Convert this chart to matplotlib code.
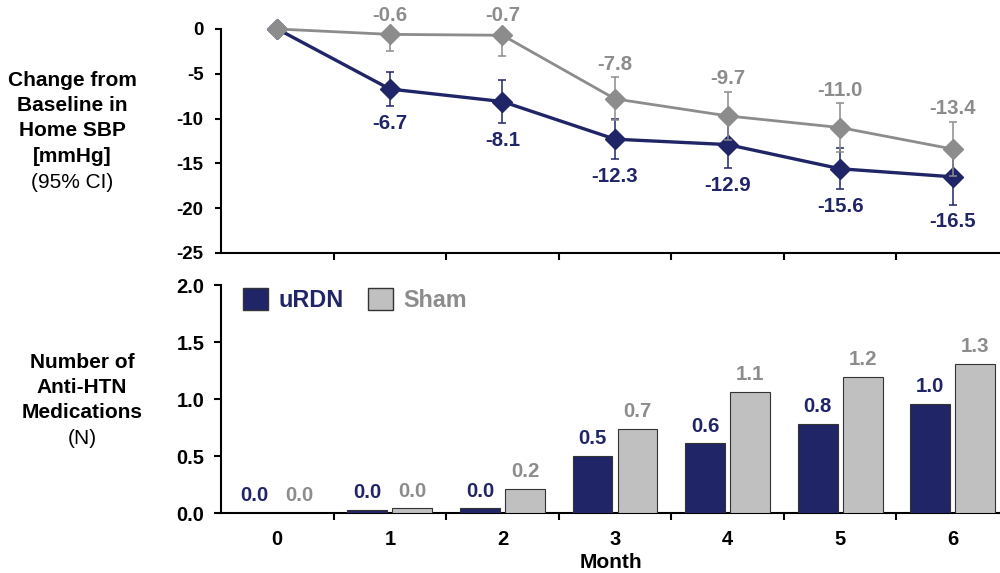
import matplotlib
matplotlib.use("Agg")
import matplotlib.pyplot as plt
from matplotlib.patches import Patch
import numpy as np

plt.rcParams['font.family'] = ['Liberation Sans', 'DejaVu Sans']
plt.rcParams['axes.unicode_minus'] = False

# data
months = [0, 1, 2, 3, 4, 5, 6]
sbp_urdn = [0.0, -6.7, -8.1, -12.3, -12.9, -15.6, -16.5]
sbp_urdn_ci = [0.0, 1.95, 2.4, 2.25, 2.6, 2.3, 3.1]
sbp_sham = [0.0, -0.6, -0.7, -7.8, -9.7, -11.0, -13.4]
sbp_sham_ci = [0.0, 1.9, 2.3, 2.4, 2.7, 2.7, 3.0]

meds_urdn = [0.0, 0.03, 0.04, 0.50, 0.61, 0.78, 0.96]
meds_sham = [0.0, 0.04, 0.21, 0.74, 1.06, 1.19, 1.31]

navy = '#1F2566'
grey_line = '#8C8C8C'
grey_bar = '#C0C0C0'

fig = plt.figure(figsize=(10, 5.73), dpi=100)
ax1 = fig.add_axes([0.221, 0.5585, 0.779, 0.3909])
ax2 = fig.add_axes([0.221, 0.1047, 0.779, 0.3979])

x = np.array(months)
bounds = np.arange(0.5, 6.5, 1.0)

# --- top panel: change in home SBP ---
eb_u = ax1.errorbar(x, sbp_urdn, yerr=sbp_urdn_ci, fmt='-D', color=navy, lw=2.4,
                    ms=10, elinewidth=1.1, capsize=2.8, capthick=1.1, zorder=3)
eb_s = ax1.errorbar(x, sbp_sham, yerr=sbp_sham_ci, fmt='-D', color=grey_line, lw=2.0,
                    ms=10, elinewidth=1.1, capsize=2.8, capthick=1.1, zorder=4)
# keep the markers at 0 whole, error bars stay clipped
eb_u[0].set_clip_on(False)
eb_s[0].set_clip_on(False)

for i in months[1:]:
    top = min(sbp_sham[i] + sbp_sham_ci[i], 0)
    ax1.annotate(f'{sbp_sham[i]:.1f}', (i, top), xytext=(0, 9.5), textcoords='offset points',
                 ha='center', va='center', fontsize=14.7, fontweight='bold', color=grey_line)
    ax1.annotate(f'{sbp_urdn[i]:.1f}', (i, sbp_urdn[i] - sbp_urdn_ci[i]), xytext=(0, -12.5),
                 textcoords='offset points', ha='center', va='center', fontsize=14.7,
                 fontweight='bold', color=navy)

ax1.set_ylim(-25, 0)
ax1.set_yticks([0, -5, -10, -15, -20, -25])
ax1.set_xlim(-0.5, 6.42)
ax1.set_xticks(bounds)
ax1.set_xticklabels([])
ax1.tick_params(axis='y', labelsize=13.5, width=1.5, length=4.5, pad=8)
ax1.tick_params(axis='x', width=1.5, length=5)
for lab in ax1.get_yticklabels():
    lab.set_fontweight('bold')

# --- bottom panel: number of medications ---
w = 0.355
ax2.bar(x - 0.2, meds_urdn, w, color=navy, edgecolor='#333333', linewidth=0.8, zorder=3)
ax2.bar(x + 0.2, meds_sham, w, color=grey_bar, edgecolor='#333333', linewidth=0.8, zorder=3)
for i in months:
    ax2.annotate(f'{meds_urdn[i]:.1f}', (i - 0.2, meds_urdn[i]), xytext=(0, 12.5),
                 textcoords='offset points', ha='center', va='center', fontsize=14.7,
                 fontweight='bold', color=navy)
    ax2.annotate(f'{meds_sham[i]:.1f}', (i + 0.2, meds_sham[i]), xytext=(0, 12.5),
                 textcoords='offset points', ha='center', va='center', fontsize=14.7,
                 fontweight='bold', color=grey_line)

ax2.set_ylim(0, 2.0)
ax2.set_yticks([0, 0.5, 1.0, 1.5, 2.0])
ax2.set_yticklabels(['0.0', '0.5', '1.0', '1.5', '2.0'], fontweight='bold')
ax2.set_xlim(-0.5, 6.42)
ax2.set_xticks(bounds)
ax2.set_xticklabels([])
ax2.set_xticks(x, minor=True)
ax2.set_xticklabels([str(m) for m in months], minor=True, fontsize=14.5, fontweight='bold')
ax2.tick_params(axis='x', which='major', width=1.5, length=5)
ax2.tick_params(axis='x', which='minor', length=0, pad=12)
ax2.tick_params(axis='y', labelsize=14.5, width=1.5, length=5, pad=7)
ax2.set_xlabel('Month', fontsize=15, fontweight='bold', labelpad=3)

handles = [Patch(facecolor=navy, edgecolor='#333333', label='uRDN'),
           Patch(facecolor=grey_bar, edgecolor='#333333', label='Sham')]
leg = ax2.legend(handles=handles, loc='upper left', bbox_to_anchor=(0.028, 0.985), ncol=2,
                 frameon=False, borderpad=0, borderaxespad=0, handlelength=1.1,
                 handleheight=1.07, handletextpad=0.45, columnspacing=1.0,
                 prop={'size': 16.8, 'weight': 'bold'}, labelcolor=[navy, grey_line])

for ax in (ax1, ax2):
    ax.spines['top'].set_visible(False)
    ax.spines['right'].set_visible(False)
    ax.spines['left'].set_linewidth(1.5)
    ax.spines['bottom'].set_linewidth(1.5)

# left side titles
top_lines = [('Change from', 'bold'), ('Baseline in', 'bold'), ('Home SBP', 'bold'),
             ('[mmHg]', 'bold'), ('(95% CI)', 'normal')]
for k, (txt, wt) in enumerate(top_lines):
    fig.text(72 / 1000, 1 - (80 + 25.5 * k) / 573, txt, ha='center', va='center',
             fontsize=15, fontweight=wt)

bot_lines = [('Number of', 'bold'), ('Anti-HTN', 'bold'), ('Medications', 'bold'),
             ('(N)', 'normal')]
for k, (txt, wt) in enumerate(bot_lines):
    fig.text(82 / 1000, 1 - (362 + 25.5 * k) / 573, txt, ha='center', va='center',
             fontsize=15, fontweight=wt)

fig.savefig('out.png', dpi=100)
